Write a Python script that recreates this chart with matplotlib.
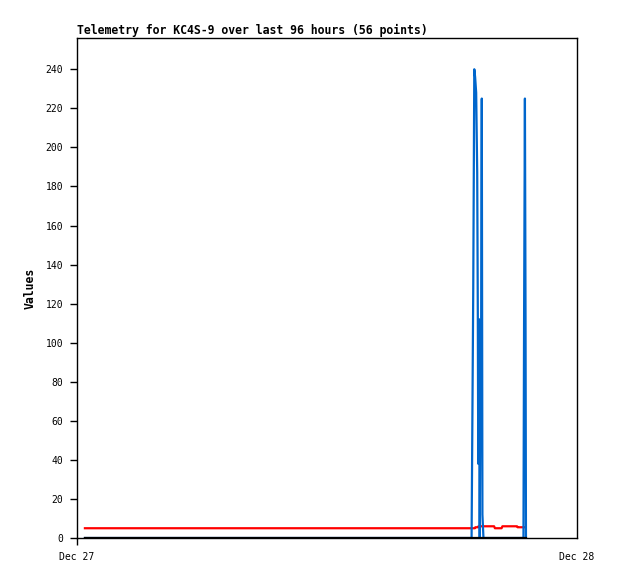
import datetime as dt
import matplotlib
matplotlib.use("Agg")
import matplotlib.pyplot as plt
import matplotlib.dates as mdates

start = dt.datetime(2023, 12, 27)
end = dt.datetime(2023, 12, 28)

# hours after Dec 27 00:00
blue_hours = [0.38, 18.94, 18.98, 19.02, 19.07, 19.11, 19.16, 19.21, 19.24, 19.26,
              19.30, 19.33, 19.37, 19.40, 19.43, 19.46, 19.51, 21.43, 21.46, 21.50,
              21.53, 21.55]
blue_vals = [0, 0, 64, 128, 240, 236, 228, 187, 112, 38,
             112, 0, 96, 112, 225, 12, 0, 0, 112, 225,
             112, 0]

red_hours = [0.38, 19.10, 19.12, 19.25, 19.27, 20.02, 20.06, 20.38, 20.42, 21.12,
             21.15, 21.45]
red_vals = [5, 5, 5.5, 5.5, 6, 6, 5, 5, 6, 6,
            5.5, 5.5]

black_hours = [0.38, 21.55]
black_vals = [0, 0]

yticks = list(range(0, 241, 20))
title = "Telemetry for KC4S-9 over last 96 hours (56 points)"


def to_time(hours):
    return [start + dt.timedelta(hours=h) for h in hours]


mono = "DejaVu Sans Mono"
fig = plt.figure(figsize=(6.18, 5.79), dpi=100)
ax = fig.add_axes([77 / 618, 41 / 579, 500 / 618, 500 / 579])

ax.plot(to_time(red_hours), red_vals, color="#ff0000", lw=1.6)
ax.plot(to_time(blue_hours), blue_vals, color="#0066cc", lw=1.6)
ax.plot(to_time(black_hours), black_vals, color="black", lw=1.6)

ax.set_xlim(start, end)
ax.set_ylim(0, 256)
ax.set_yticks(yticks)
ax.set_xticks([start, end])
ax.xaxis.set_major_formatter(mdates.DateFormatter("%b %d"))

ax.tick_params(axis="y", direction="out", length=5, width=1, pad=5,
               labelsize=7)
ax.tick_params(axis="x", direction="out", length=5, width=1, pad=5,
               labelsize=7)
ax.xaxis.get_major_ticks()[1].tick1line.set_visible(False)
for lab in ax.get_xticklabels() + ax.get_yticklabels():
    lab.set_family(mono)

ax.set_ylabel("Values", family=mono, fontweight="bold", fontsize=8.3)
ax.yaxis.set_label_coords(-0.08, 0.5)
ax.set_title(title, loc="left", family=mono, fontweight="bold",
             fontsize=8.3, pad=3)

for s in ax.spines.values():
    s.set_linewidth(1)

fig.savefig("out.png", dpi=100)
